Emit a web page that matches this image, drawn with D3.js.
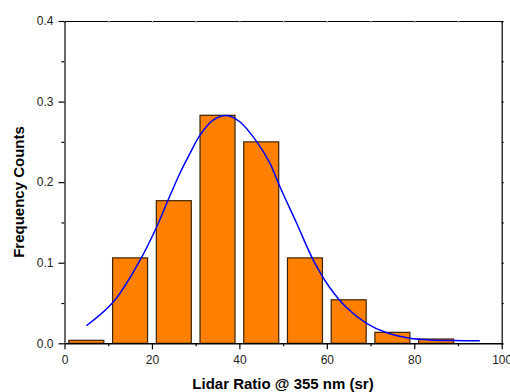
<!DOCTYPE html>
<html>
<head>
<meta charset="utf-8">
<script src="https://cdn.jsdelivr.net/npm/d3@7"></script>
<style>
  body { margin: 0; background: #fff; }
  svg { display: block; font-family: Arial, "Liberation Sans", sans-serif; }
  .axis text { font-size: 12px; fill: #222; }
</style>
</head>
<body>
<svg id="chart" width="510" height="392"></svg>
<script>
// histogram bins (centre of each 10 sr bin) and relative frequency
const binCenters = [5, 15, 25, 35, 45, 55, 65, 75, 85];
const frequency = [0.0037, 0.106, 0.177, 0.283, 0.250, 0.106, 0.054, 0.0136, 0.0053];

// fitted curve
const fitX = [5, 11.2, 17.3, 21.1, 23.7, 26.4, 28.7, 31, 34, 37.3, 40.1, 44, 47, 49.3, 53.1, 56.9, 60.7, 64.5, 69.1, 73.7, 79, 83.6, 89, 95];
const fitY = [0.0218, 0.0516, 0.1034, 0.1447, 0.1778, 0.211, 0.2357, 0.2584, 0.277, 0.2825, 0.275, 0.250, 0.2233, 0.194, 0.149, 0.1033, 0.069, 0.0444, 0.0248, 0.013, 0.0062, 0.0041, 0.0034, 0.0032];

const xTicks = [0, 20, 40, 60, 80, 100];
const yTicks = [0.0, 0.1, 0.2, 0.3, 0.4];

const margin = { top: 21, right: 8.3, bottom: 48.7, left: 64.5 };
const svg = d3.select("#chart");
const width = +svg.attr("width") - margin.left - margin.right;
const height = +svg.attr("height") - margin.top - margin.bottom;

const g = svg.append("g").attr("transform", `translate(${margin.left},${margin.top})`);

const x = d3.scaleLinear().domain([0, 100]).range([0, width]);
const y = d3.scaleLinear().domain([0, 0.4]).range([height, 0]);

// bars: each bin drawn 8 units wide, leaving a gap of 2
const barWidth = 8;
g.selectAll("rect.bar")
  .data(binCenters)
  .enter()
  .append("rect")
  .attr("class", "bar")
  .attr("x", d => x(d - barWidth / 2))
  .attr("width", x(barWidth) - x(0))
  .attr("y", (d, i) => y(frequency[i]))
  .attr("height", (d, i) => y(0) - y(frequency[i]))
  .attr("fill", "#ff8000")
  .attr("stroke", "#3a2206")
  .attr("stroke-width", 1.2);

// fit line
const line = d3.line()
  .x(d => x(d[0]))
  .y(d => y(d[1]))
  .curve(d3.curveCatmullRom);

g.append("path")
  .datum(fitX.map((v, i) => [v, fitY[i]]))
  .attr("fill", "none")
  .attr("stroke", "#0000ff")
  .attr("stroke-width", 1.5)
  .attr("d", line);

// minor ticks first
const xMinor = d3.axisBottom(x).tickValues(d3.range(10, 100, 20)).tickSize(3).tickFormat("");
g.append("g").attr("transform", `translate(0,${height})`).call(xMinor)
  .call(s => s.select(".domain").remove());
const yMinor = d3.axisLeft(y).tickValues(d3.range(0.05, 0.4, 0.1)).tickSize(3).tickFormat("");
g.append("g").call(yMinor).call(s => s.select(".domain").remove());

// top and right frame
const topAxis = d3.axisTop(x).tickValues(d3.range(10, 100, 10)).tickSize(-2).tickFormat("");
g.append("g").call(topAxis)
  .call(s => s.selectAll(".tick line").attr("stroke", "#bbb"))
  .call(s => s.select(".domain").attr("stroke", "#000").attr("stroke-width", 1.2));
const rightAxis = d3.axisRight(y).tickValues(d3.range(0.05, 0.4, 0.05)).tickSize(2).tickFormat("");
g.append("g").attr("transform", `translate(${width},0)`).call(rightAxis)
  .call(s => s.select(".domain").attr("stroke", "#000").attr("stroke-width", 1.2));

// main axes
const xAxis = d3.axisBottom(x).tickValues(xTicks).tickSize(6).tickSizeOuter(0).tickPadding(6).tickFormat(d3.format("d"));
g.append("g")
  .attr("class", "axis")
  .attr("transform", `translate(0,${height})`)
  .call(xAxis)
  .call(s => s.select(".domain").attr("stroke-width", 1.5));

const yAxis = d3.axisLeft(y).tickValues(yTicks).tickSize(6).tickSizeOuter(0).tickPadding(5).tickFormat(d3.format(".1f"));
g.append("g")
  .attr("class", "axis")
  .call(yAxis)
  .call(s => s.select(".domain").attr("stroke", "#444").attr("stroke-width", 1.6));

g.selectAll(".tick line").attr("stroke-width", 1.2);

// axis titles
svg.append("text")
  .attr("x", 283)
  .attr("y", 388.5)
  .attr("text-anchor", "middle")
  .style("font-size", "15px")
  .style("font-weight", "bold")
  .text("Lidar Ratio @ 355 nm (sr)");

svg.append("text")
  .attr("transform", "rotate(-90)")
  .attr("x", -192)
  .attr("y", 24)
  .attr("text-anchor", "middle")
  .style("font-size", "15px")
  .style("font-weight", "bold")
  .text("Frequency Counts");
</script>
</body>
</html>
